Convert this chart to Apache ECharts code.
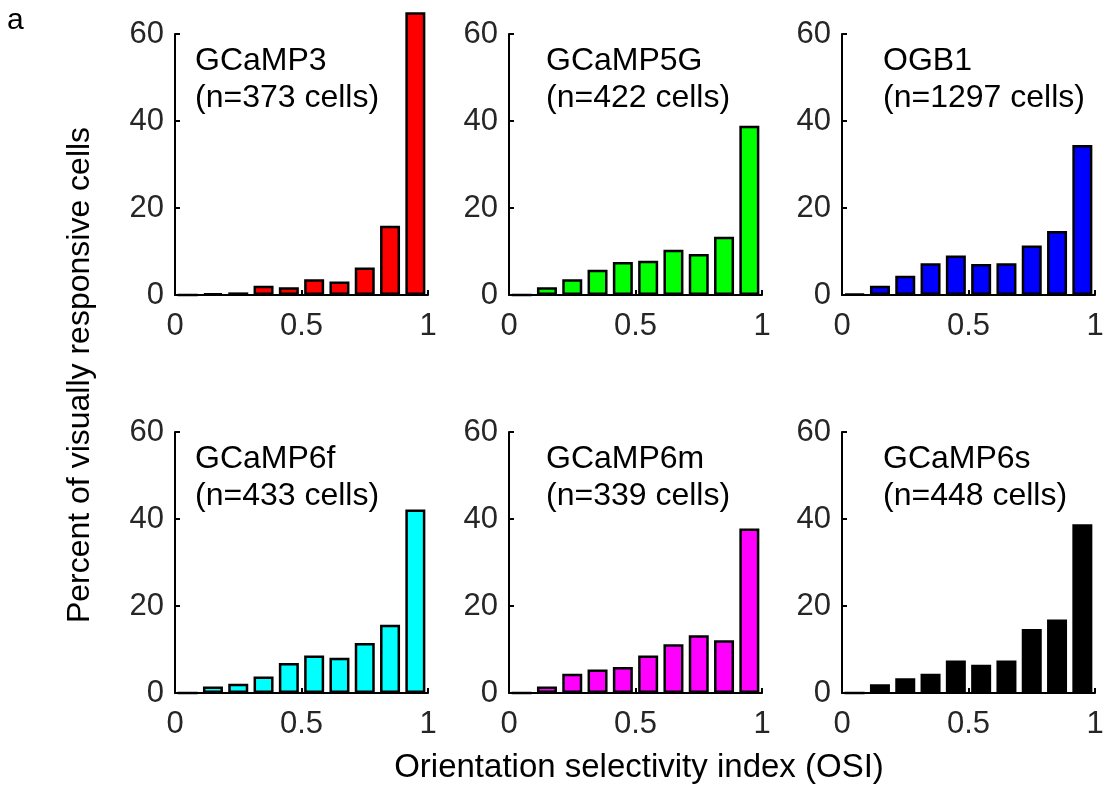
<!DOCTYPE html>
<html>
<head>
<meta charset="utf-8">
<script src="https://cdn.jsdelivr.net/npm/echarts@6/dist/echarts.min.js"></script>
<style>
  html, body { margin: 0; padding: 0; background: #fff; }
  #chart { width: 1108px; height: 795px; }
</style>
</head>
<body>
<div id="chart"></div>
<script>
// bin centres of the OSI histogram
const binCenters = [0.05, 0.15, 0.25, 0.35, 0.45, 0.55, 0.65, 0.75, 0.85, 0.95];

// percent of visually responsive cells per bin
const gcamp3  = [0, 0.4, 0.6, 2.1, 1.8, 3.6, 3.1, 6.3, 15.9, 65.0];
const gcamp5g = [0, 1.8, 3.6, 5.8, 7.6, 7.9, 10.4, 9.4, 13.4, 38.9];
const ogb1    = [0.2, 2.1, 4.4, 7.3, 9.1, 7.1, 7.3, 11.4, 14.7, 34.5];
const gcamp6f = [0, 1.5, 2.1, 3.8, 6.9, 8.6, 8.1, 11.5, 15.7, 42.2];
const gcamp6m = [0, 1.5, 4.4, 5.4, 6.0, 8.6, 11.2, 13.3, 12.1, 37.8];
const gcamp6s = [0, 2.0, 3.4, 4.4, 7.5, 6.5, 7.5, 14.7, 16.9, 38.8];

const panelNames = ['GCaMP3', 'GCaMP5G', 'OGB1', 'GCaMP6f', 'GCaMP6m', 'GCaMP6s'];
const cellCounts = [373, 422, 1297, 433, 339, 448];
const panelColors = ['#ff0000', '#00ff00', '#0000ff', '#00ffff', '#ff00ff', '#000000'];
const panelData = [gcamp3, gcamp5g, ogb1, gcamp6f, gcamp6m, gcamp6s];

const FONT = "'Liberation Sans', Arial, sans-serif";

// grid placement (pixels)
const colLeft = [175, 509, 842];
const rowTop = [34, 432];
const plotW = 253;
const plotH = 261;

const chart = echarts.init(document.getElementById('chart'), null, { renderer: 'canvas' });

var grids = [], xAxes = [], yAxes = [], series = [], titles = [];

panelData.forEach(function (vals, i) {
  var col = i % 3, row = Math.floor(i / 3);
  grids.push({ left: colLeft[col], top: rowTop[row], width: plotW, height: plotH });

  xAxes.push({
    gridIndex: i, type: 'value', min: 0, max: 1, interval: 0.5,
    axisLine: { lineStyle: { color: '#000', width: 2 } },
    axisTick: { inside: true, length: 5, lineStyle: { color: '#000', width: 2 } },
    axisLabel: { color: '#262626', fontSize: 31, fontFamily: FONT, margin: 16 },
    splitLine: { show: false }
  });
  yAxes.push({
    gridIndex: i, type: 'value', min: 0, max: 60, interval: 20,
    axisLine: { show: true, lineStyle: { color: '#000', width: 2 } },
    axisTick: { show: true, inside: true, length: 5, lineStyle: { color: '#000', width: 2 } },
    axisLabel: { color: '#262626', fontSize: 31, fontFamily: FONT, margin: 11 },
    splitLine: { show: false }
  });

  series.push({
    type: 'bar', xAxisIndex: i, yAxisIndex: i,
    barWidth: 20, clip: false,
    data: binCenters.map(function (c, k) { return [c, vals[k]]; }),
    itemStyle: { color: panelColors[i], borderColor: '#000', borderWidth: 2.5 },
    silent: true
  });

  titles.push({
    text: panelNames[i] + '\n(n=' + cellCounts[i] + ' cells)',
    left: [195, 546, 883][col], top: rowTop[row] + 9, padding: 0,
    textStyle: { fontSize: 32, fontWeight: 'normal', color: '#000', fontFamily: FONT, lineHeight: 37 }
  });
});

var option = {
  backgroundColor: '#ffffff',
  animation: false,
  title: titles,
  grid: grids,
  xAxis: xAxes,
  yAxis: yAxes,
  series: series,
  graphic: [
    {
      type: 'text', left: 7, top: 6,
      style: { text: 'a', font: '30px ' + FONT, fill: '#000' }
    },
    {
      type: 'text', x: 80, y: 375, rotation: Math.PI / 2,
      style: { text: 'Percent of visually responsive cells', font: '32px ' + FONT, fill: '#000', align: 'center', verticalAlign: 'middle' }
    },
    {
      type: 'text', x: 639, y: 768,
      style: { text: 'Orientation selectivity index (OSI)', font: '33px ' + FONT, fill: '#000', align: 'center', verticalAlign: 'middle' }
    }
  ]
};

chart.setOption(option);
</script>
</body>
</html>
